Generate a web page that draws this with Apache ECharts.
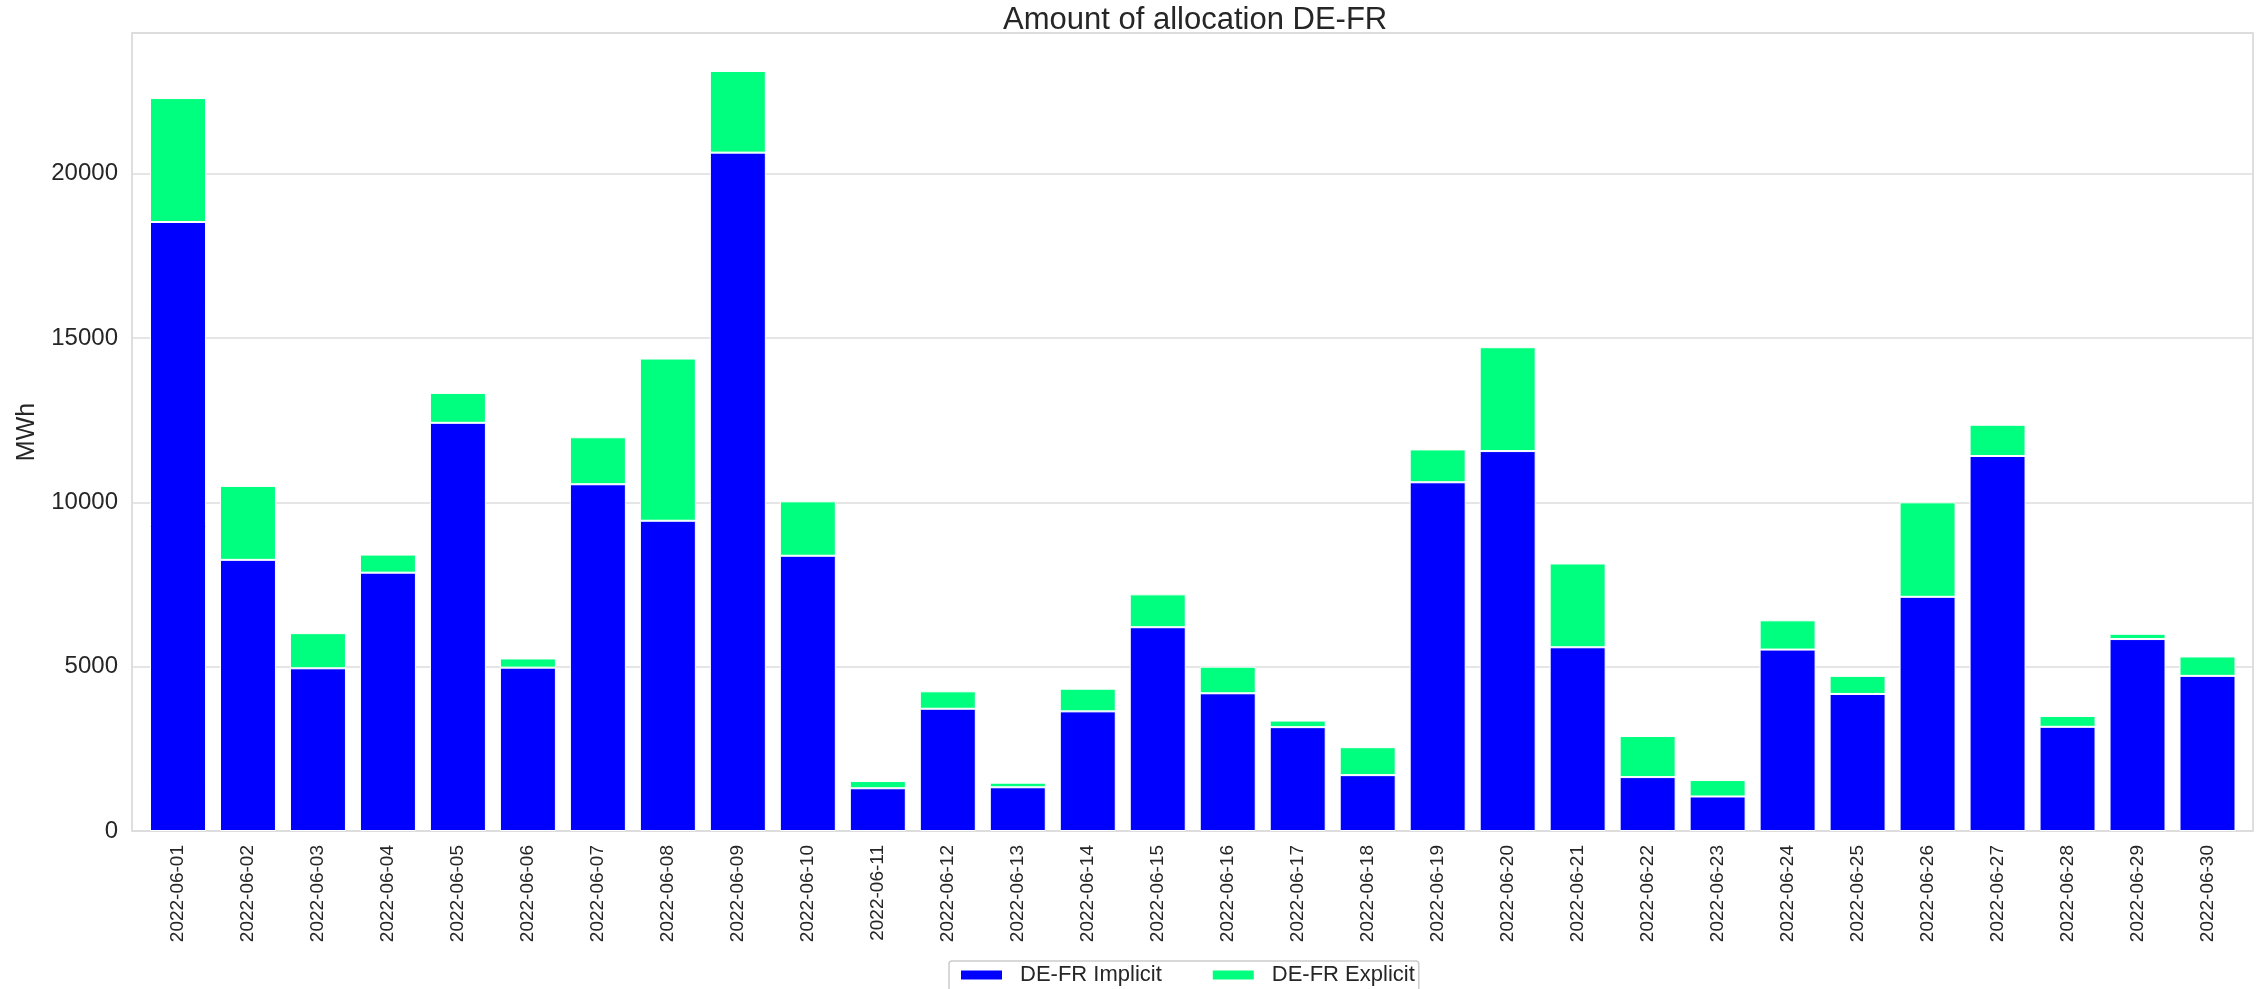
<!DOCTYPE html>
<html>
<head>
<meta charset="utf-8">
<script src="https://cdn.jsdelivr.net/npm/echarts@6/dist/echarts.min.js"></script>
<style>
html,body{margin:0;padding:0;background:#fff;}
#chart{width:2259px;height:989px;}
</style>
</head>
<body>
<div id="chart"></div>
<script>
const categories = ["2022-06-01","2022-06-02","2022-06-03","2022-06-04","2022-06-05","2022-06-06","2022-06-07","2022-06-08","2022-06-09","2022-06-10","2022-06-11","2022-06-12","2022-06-13","2022-06-14","2022-06-15","2022-06-16","2022-06-17","2022-06-18","2022-06-19","2022-06-20","2022-06-21","2022-06-22","2022-06-23","2022-06-24","2022-06-25","2022-06-26","2022-06-27","2022-06-28","2022-06-29","2022-06-30"];
const implicitValues = [18530, 8250, 4950, 7860, 12420, 4970, 10550, 9440, 20640, 8375, 1300, 3720, 1330, 3640, 6200, 4190, 3160, 1700, 10610, 11560, 5590, 1640, 1050, 5520, 4170, 7125, 11410, 3170, 5840, 4720];
const explicitValues = [3770, 2250, 1070, 550, 910, 280, 1430, 4935, 2485, 1655, 220, 530, 140, 690, 1000, 810, 200, 850, 1000, 3160, 2550, 1250, 500, 890, 550, 2875, 950, 330, 160, 590];
const yTicks = [0, 5000, 10000, 15000, 20000];
const seriesNames = ["DE-FR Implicit", "DE-FR Explicit"];
const titleText = "Amount of allocation DE-FR";
const yName = "MWh";

const yMax = 24280;
const txt = '#262626';
const font = 'Liberation Sans, Arial, sans-serif';
const chart = echarts.init(document.getElementById('chart'), null, {renderer: 'canvas'});
chart.setOption({
  animation: false,
  backgroundColor: '#fff',
  title: {
    text: titleText, left: 998, top: 0,
    textStyle: {fontFamily: font, fontSize: 31, fontWeight: 'normal', color: txt}
  },
  legend: {
    data: seriesNames,
    left: 949, top: 961,
    orient: 'horizontal',
    padding: [3, 4, 30, 10],
    borderColor: '#cccccc', borderWidth: 1.5, borderRadius: 3,
    itemWidth: 43, itemHeight: 11, itemGap: 49,
    icon: 'rect',
    textStyle: {fontFamily: font, fontSize: 22, color: txt, padding: [0, 0, 0, 12]}
  },
  grid: [
    {left: 132, right: 6, top: 33, bottom: 158, show: true, borderColor: '#d4d4d4', borderWidth: 1.5, backgroundColor: '#fff'},
    {left: 143, right: 16.5, top: 33, bottom: 158}
  ],
  xAxis: [
    {gridIndex: 0, type: 'value', show: false, min: 0, max: 1},
    {gridIndex: 1, type: 'category', data: categories,
     axisLine: {show: false}, axisTick: {show: false},
     axisLabel: {rotate: 90, margin: 14, fontSize: 19, color: txt, interval: 0, fontFamily: font}}
  ],
  yAxis: [
    {gridIndex: 0, type: 'value', min: 0, max: yMax, interval: 5000,
     axisLine: {show: false}, axisTick: {show: false},
     splitLine: {show: true, lineStyle: {color: '#dcdcdc', width: 1.5}},
     axisLabel: {showMaxLabel: false, fontSize: 24, color: txt, margin: 14, fontFamily: font,
       formatter: v => yTicks.indexOf(v) >= 0 ? String(v) : ''},
     name: yName, nameLocation: 'middle', nameRotate: 90, nameGap: 92,
     nameTextStyle: {fontSize: 25, color: txt, fontFamily: font}},
    {gridIndex: 1, type: 'value', min: 0, max: yMax, show: false}
  ],
  series: [
    {name: seriesNames[0], type: 'bar', stack: 'total', xAxisIndex: 1, yAxisIndex: 1,
     data: implicitValues, barWidth: '80%',
     itemStyle: {color: '#0000ff', borderColor: '#ffffff', borderWidth: 1}},
    {name: seriesNames[1], type: 'bar', stack: 'total', xAxisIndex: 1, yAxisIndex: 1,
     data: explicitValues, barWidth: '80%',
     itemStyle: {color: '#00ff7f', borderColor: '#ffffff', borderWidth: 1}}
  ]
});
</script>
</body>
</html>
